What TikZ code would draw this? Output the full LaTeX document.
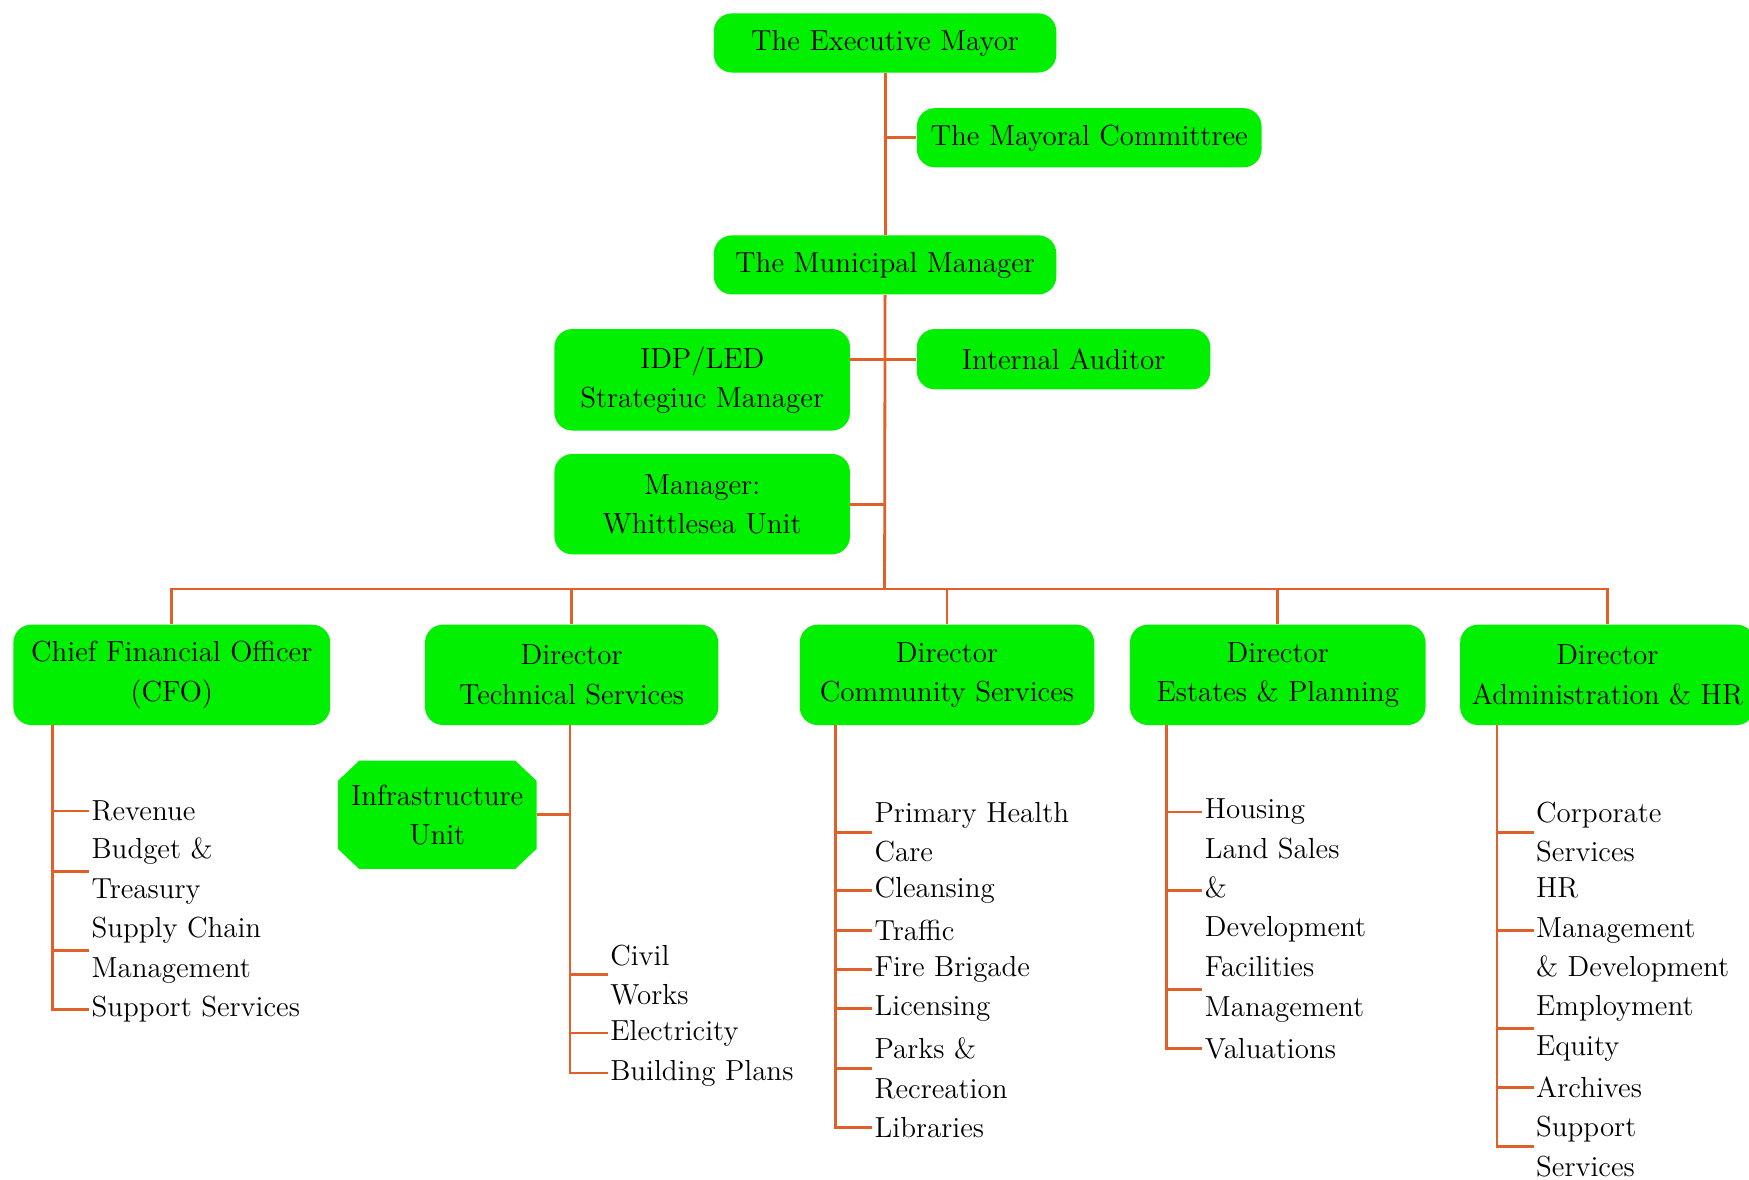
\documentclass[tikz,border=0pt]{standalone}
\definecolor{boxgreen}{RGB}{0,240,0}
\definecolor{linkorange}{RGB}{225,95,40}
\begin{document}
\begin{tikzpicture}[x=0.5577pt,y=-0.5577pt,
  every node/.style={font=\fontsize{14.5}{19.7}\selectfont},
  box/.style={fill=boxgreen, rounded corners=9pt, align=center, inner sep=0pt},
  bw/.style={minimum width=#1*0.5577pt},
  bh/.style={minimum height=#1*0.5577pt},
  item/.style={anchor=west, align=left, inner sep=1pt},
  link/.style={draw=linkorange, line width=1.4pt}]
\fill[white] (0,0) rectangle (1568,1057);
\useasboundingbox (0,0) rectangle (1568,1057);

% top levels
\node[box,bw=307,bh=53] (mayor) at (793.5,38.5) {The Executive Mayor};
\node[box,bw=309,bh=53] (committee) at (976.5,123.5) {The Mayoral Committree};
\node[box,bw=307,bh=53] (mm) at (793.5,237.5) {The Municipal Manager};
\node[box,bw=265,bh=91] (idp) at (629.5,340.5) {IDP/LED\\Strategiuc Manager};
\node[box,bw=263,bh=54] (aud) at (953.5,322) {Internal Auditor};
\node[box,bw=265,bh=90] (whit) at (629.5,452) {Manager:\\Whittlesea Unit};

% directors
\node[box,bw=284,bh=90] (cfo) at (154,605) {Chief Financial Officer\\(CFO)};
\node[box,bw=263,bh=90] (tech) at (512.5,605) {Director\\Technical Services};
\node[box,bw=264,bh=90] (comm) at (849,605) {Director\\Community Services};
\node[box,bw=265,bh=90] (est) at (1145.5,605) {Director\\Estates \& Planning};
\node[box,bw=264,bh=90] (adm) at (1441,605) {Director\\Administration \& HR};

% infrastructure unit (octagon)
\fill[boxgreen] (322,682) -- (462,682) -- (481,700) -- (481,761) -- (462,779)
  -- (322,779) -- (303,761) -- (303,700) -- cycle;
\node[align=center, inner sep=0pt, bw=178, bh=97] (infra) at (392,730.5) {Infrastructure\\Unit};

% trunk
\coordinate (bus) at (793,528);
\draw[link] (mayor.south) -- (mm.north);
\draw[link] (mm.south) -- (bus);
\draw[link] (mayor.south |- committee.west) -- (committee.west);
\draw[link] (idp.east |- aud.west) -- (aud.west);
\draw[link] (whit.east) -- (whit.east -| bus);
\draw[link] (cfo.north) -- (cfo.north |- bus) -- (adm.north |- bus) -- (adm.north);
\draw[link] (tech.north) -- (tech.north |- bus);
\draw[link] (comm.north) -- (comm.north |- bus);
\draw[link] (est.north) -- (est.north |- bus);

% CFO list
\coordinate (cfoX) at (47,650);
\node[item] (c1) at (80,727) {Revenue};
\node[item] (c2) at (80,781) {Budget \&\\Treasury};
\node[item] (c3) at (80,852) {Supply Chain\\Management};
\node[item] (c4) at (80,905) {Support Services};
\draw[link] (cfoX) |- (c4.west);
\foreach \n in {c1,c2,c3} \draw[link] (cfoX |- \n.west) -- (\n.west);

% Technical list
\coordinate (techX) at (511,650);
\node[item] (t1) at (545,874) {Civil\\Works};
\node[item] (t2) at (545,926) {Electricity};
\node[item] (t3) at (545,962) {Building Plans};
\draw[link] (techX) |- (t3.west);
\draw[link] (infra.east) -- (infra.east -| techX);
\foreach \n in {t1,t2} \draw[link] (techX |- \n.west) -- (\n.west);

% Community list
\coordinate (commX) at (749,650);
\node[item] (m1) at (782,746) {Primary Health\\Care};
\node[item] (m2) at (782,798) {Cleansing};
\node[item] (m3) at (782,834) {Traffic};
\node[item] (m4) at (782,869) {Fire Brigade};
\node[item] (m5) at (782,904) {Licensing};
\node[item] (m6) at (782,958) {Parks \&\\Recreation};
\node[item] (m7) at (782,1011) {Libraries};
\draw[link] (commX) |- (m7.west);
\foreach \n in {m1,m2,m3,m4,m5,m6} \draw[link] (commX |- \n.west) -- (\n.west);

% Estates list
\coordinate (estX) at (1046,650);
\node[item] (e1) at (1078,728) {Housing};
\node[item] (e2) at (1078,798) {Land Sales\\\&\\Development};
\node[item] (e3) at (1078,887) {Facilities\\Management};
\node[item] (e4) at (1078,940) {Valuations};
\draw[link] (estX) |- (e4.west);
\foreach \n in {e1,e2,e3} \draw[link] (estX |- \n.west) -- (\n.west);

% Admin list
\coordinate (admX) at (1342,650);
\node[item] (a1) at (1375,746) {Corporate\\Services};
\node[item] (a2) at (1375,834) {HR\\Management\\\& Development};
\node[item] (a3) at (1375,922) {Employment\\Equity};
\node[item] (a4) at (1375,975) {Archives};
\node[item] (a5) at (1375,1028) {Support\\Services};
\draw[link] (admX) |- (a5.west);
\foreach \n in {a1,a2,a3,a4} \draw[link] (admX |- \n.west) -- (\n.west);
\end{tikzpicture}
\end{document}
